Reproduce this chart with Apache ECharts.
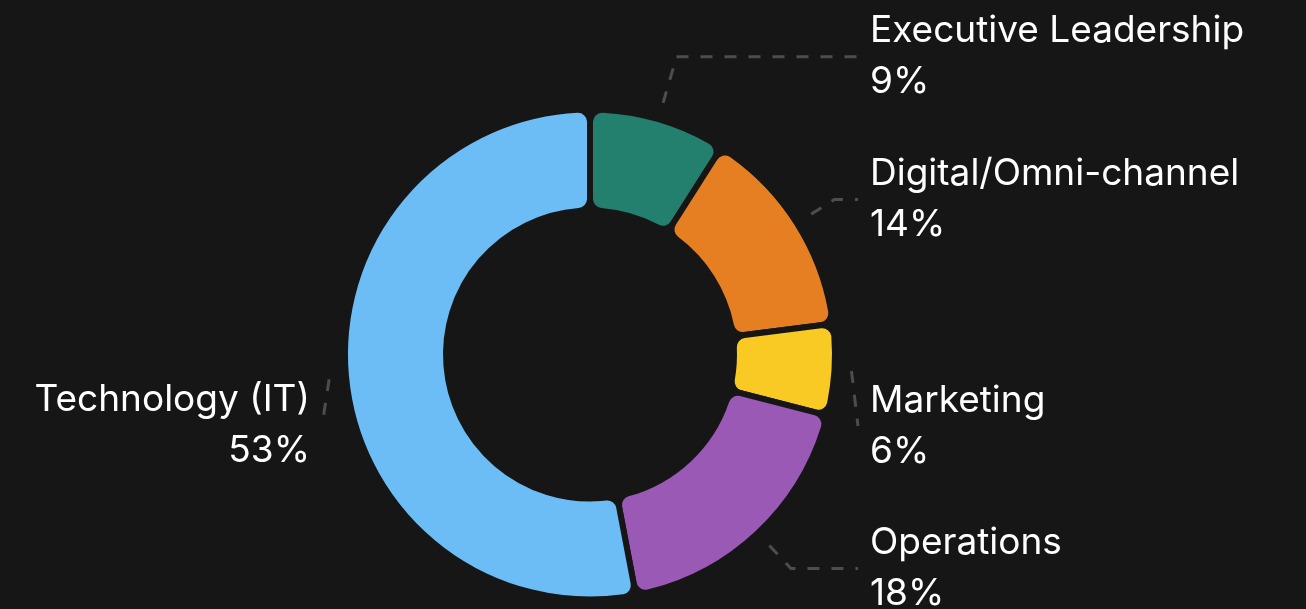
<!DOCTYPE html>
<html>
<head>
<meta charset="utf-8">
<script src="https://cdn.jsdelivr.net/npm/echarts@6/dist/echarts.min.js"></script>
<style>
    html, body {
        margin: 0;
        padding: 0;
        background: #161616;
    }

    #deptPie {
        width: 1306px;
        height: 609px;
    }
</style>
</head>
<body>
<div id="deptPie"></div>
<script>
    // budget share by department, clockwise from 12 o'clock
    let departments = ['Executive Leadership', 'Digital/Omni-channel', 'Marketing', 'Operations', 'Technology (IT)'];
    let shares = [9, 14, 6, 18, 53];
    let sliceColors = ['#237F6E', '#E67E22', '#F9CA24', '#9B59B6', '#6CBDF5'];

    let pieCenter = [590, 354.5];
    // vertical nudges so the label blocks sit like the original
    let labelNudge = {'Digital/Omni-channel': 11, 'Marketing': 52, 'Operations': -12, 'Technology (IT)': 42};

    let myChart = echarts.init(document.getElementById('deptPie'));

    let total = shares.reduce((a, b) => a + b, 0);
    let seriesData = [], acc = 0;
    departments.map((name, i) => {
        // which side of the ring the label falls on
        let mid = (acc + shares[i] / 2) / total;
        acc += shares[i];
        let onRight = mid < 0.5;
        seriesData.push({
            name: name,
            value: shares[i],
            itemStyle: {color: sliceColors[i]},
            label: {
                width: onRight ? 426 : 300,
                rich: {
                    n: {align: onRight ? 'left' : 'right'},
                    p: {align: onRight ? 'left' : 'right'}
                }
            }
        });
        return name;
    });

    // leader line: starts a bit off the ring, runs out along the radius
    // until it reaches the label's height, then across to the label
    function leaderLayout(params) {
        let pts = params.labelLinePoints;
        if (!pts) return {};
        let y = pts[2][1] + (labelNudge[departments[params.dataIndex]] || 0);
        let vx = pts[0][0] - pieCenter[0], vy = pts[0][1] - pieCenter[1];
        let len = Math.sqrt(vx * vx + vy * vy);
        let ux = vx / len, uy = vy / len;
        let start = [pts[0][0] + ux * 17, pts[0][1] + uy * 17];
        let endX = pts[2][0];
        let t = Math.abs(uy) > 1e-6 ? (y - start[1]) / uy : -1;
        let elbow = [endX, y];
        if (t > 0) {
            let ex = start[0] + ux * t;
            if ((ux > 0 && ex < endX) || (ux < 0 && ex > endX)) {
                elbow = [ex, y];
            }
        }
        return {
            y: y,
            labelLinePoints: [start, elbow, [endX, y]]
        };
    }

    let option = {
        backgroundColor: '#161616',
        animation: false,
        series: [{
            type: 'pie',
            bottom: -40,
            center: pieCenter,
            radius: [144, 245],
            startAngle: 90,
            clockwise: true,
            itemStyle: {
                borderColor: '#161616',
                borderWidth: 6,
                borderRadius: 12
            },
            label: {
                color: '#fff',
                fontFamily: 'Inter',
                fontSize: 37,
                lineHeight: 51,
                formatter: '{n|{b}}\n{p|{c}%}',
                alignTo: 'edge',
                edgeDistance: 10,
                distanceToLabelLine: 12,
                overflow: 'none'
            },
            labelLine: {
                length: 65,
                length2: 10,
                lineStyle: {
                    color: '#4d4d4d',
                    width: 3,
                    type: [12, 12]
                }
            },
            labelLayout: leaderLayout,
            emphasis: {disabled: true},
            data: seriesData
        }]
    };

    myChart.setOption(option);
</script>
</body>
</html>
